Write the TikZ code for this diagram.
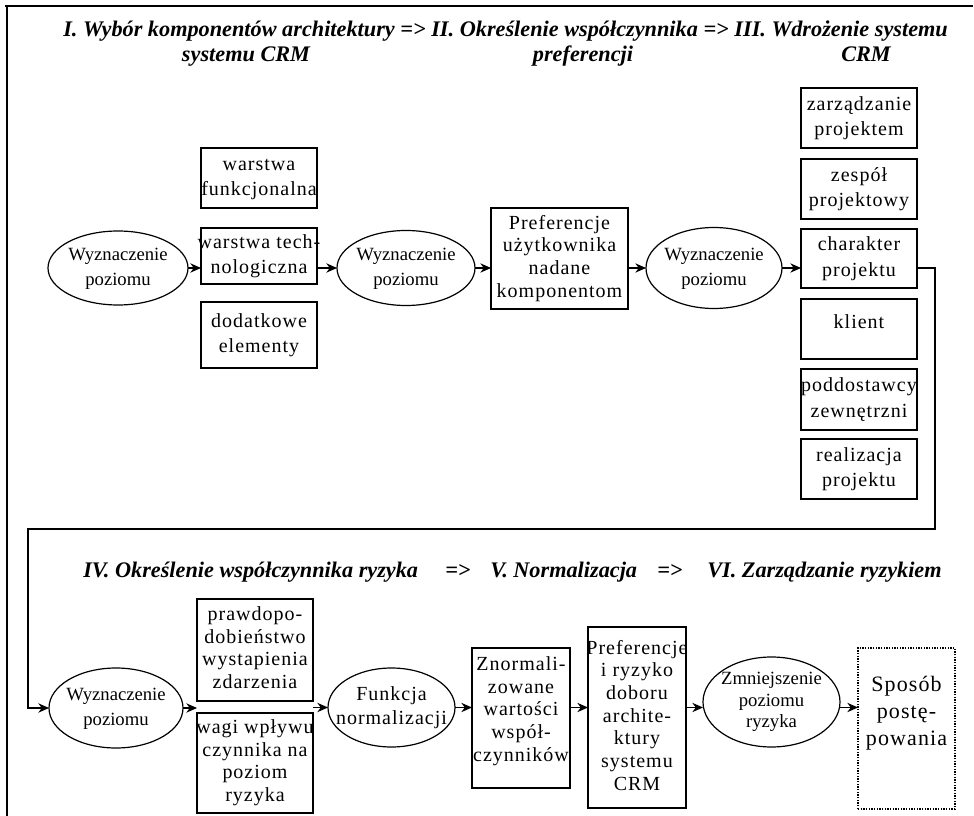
\documentclass[tikz,border=0pt]{standalone}
\usepackage{fontspec}
\setmainfont{Liberation Serif}
\newfontfamily\bodyfont[LetterSpace=5]{Liberation Serif}
\usetikzlibrary{shapes.geometric,arrows.meta}
\newcommand\mylines[1]{\makebox[0pt]{\begin{tabular}{@{}c@{}}#1\end{tabular}}}
\begin{document}
\begin{tikzpicture}[x=0.75pt,y=-0.75pt,
  box/.style={draw, line width=0.9pt, rectangle, inner sep=0pt, outer sep=0pt,
    font=\bodyfont\fontsize{15}{17}\selectfont},
  box2/.style={box, font=\bodyfont\fontsize{15}{19}\selectfont},
  oval/.style={draw, line width=0.9pt, ellipse, inner sep=-4pt, outer sep=0pt,
    font=\fontsize{14}{18.5}\selectfont},
  ovalb/.style={oval, font=\bodyfont\fontsize{15}{18}\selectfont},
  arr/.style={line width=0.9pt, -{Stealth[length=8pt,width=7pt]}},
  ttl/.style={font=\bfseries\itshape\fontsize{16.7}{20}\selectfont, inner sep=0pt, anchor=base west}]
\useasboundingbox (0,0) rectangle (974,816);
\fill[white] (0,0) rectangle (974,816);
% frame
\draw[line width=0.8pt] (5,6) -- (973,6);
\draw[line width=0.8pt] (7,6) -- (7,816);
% titles
\node[ttl] (t1) at (63,37) {I. Wybór komponentów architektury => II. Określenie współczynnika => III. Wdrożenie systemu};
\node[ttl, anchor=base] (t1b) at (246,62) {systemu CRM};
\node[ttl, anchor=base] (t2b) at (583,62) {preferencji};
\node[ttl, anchor=base] (t3b) at (866,62) {CRM};
\node[ttl] (t4) at (83,577) {IV. Określenie współczynnika ryzyka};
\node[ttl] (t4a) at (445,577) {=>};
\node[ttl] (t5) at (490,577) {V. Normalizacja};
\node[ttl] (t5a) at (657,577) {=>};
\node[ttl] (t6) at (707,577) {VI. Zarządzanie ryzykiem};
% top row
\node[oval, minimum width=105pt, minimum height=55.5pt] (e1) at (118,268) {\mylines{Wyznaczenie\\poziomu}};
\node[box2, minimum width=87pt, minimum height=45pt] (b1) at (259,178) {\mylines{warstwa\\funkcjonalna}};
\node[box2, minimum width=87pt, minimum height=42pt] (b2) at (259,256) {\mylines{warstwa tech-\\nologiczna}};
\node[box2, minimum width=87pt, minimum height=49.5pt] (b3) at (259,335) {\mylines{dodatkowe\\elementy}};
\node[oval, minimum width=103.5pt, minimum height=56.25pt] (e2) at (406,268) {\mylines{Wyznaczenie\\poziomu}};
\node[box, minimum width=102.75pt, minimum height=75.75pt] (p1) at (559.5,258.5) {\mylines{Preferencje\\użytkownika\\nadane\\komponentom}};
\node[oval, minimum width=102pt, minimum height=60.75pt] (e3) at (714,268) {\mylines{Wyznaczenie\\poziomu}};
\node[box2, minimum width=87pt, minimum height=45pt] (r1) at (859,118) {\mylines{zarządzanie\\projektem}};
\node[box2, minimum width=87pt, minimum height=45pt] (r2) at (859,189) {\mylines{zespół\\projektowy}};
\node[box2, minimum width=87pt, minimum height=44.25pt] (r3) at (859,258.5) {\mylines{charakter\\projektu}};
\node[box2, minimum width=87pt, minimum height=45pt] (r4) at (859,329) {\mylines{klient\\[8pt]}};
\node[box2, minimum width=87pt, minimum height=45.75pt] (r5) at (859,399.5) {\mylines{poddostawcy\\zewnętrzni}};
\node[box2, minimum width=87pt, minimum height=45pt] (r6) at (859,469) {\mylines{realizacja\\projektu}};
\draw[arr] (e1.east) -- (e1.east -| b2.west);
\draw[arr] (b2.east |- e2.west) -- (e2.west);
\draw[arr] (e2.east) -- (e2.east -| p1.west);
\draw[arr] (p1.east |- e3.west) -- (e3.west);
\draw[arr] (e3.east) -- (e3.east -| r3.west);
% bottom row
\node[oval, minimum width=100.5pt, minimum height=60pt] (e4) at (116,708) {\mylines{Wyznaczenie\\poziomu}};
\node[box, minimum width=87pt, minimum height=76.5pt] (q1) at (255,650) {\mylines{prawdopo-\\dobieństwo\\wystapienia\\zdarzenia}};
\node[box, minimum width=87pt, minimum height=75pt] (q2) at (255,763) {\mylines{wagi wpływu\\czynnika na\\poziom\\ryzyka}};
\node[ovalb, minimum width=95.25pt, minimum height=59.25pt] (e5) at (391.5,707.5) {\mylines{Funkcja\\normalizacji}};
\node[box, minimum width=73.5pt, minimum height=105pt] (z1) at (521,718) {\mylines{Znormali-\\zowane\\wartości\\współ-\\czynników\\[10pt]}};
\node[box, minimum width=73.5pt, minimum height=135.75pt] (pr) at (637,717.5) {\mylines{Preferencje\\i ryzyko\\doboru\\archite-\\ktury\\systemu\\CRM}};
\node[oval, minimum width=102.75pt, minimum height=67.5pt, font=\fontsize{14}{16}\selectfont] (e6) at (771.5,702) {\mylines{Zmniejszenie\\poziomu\\ryzyka}};
\node[draw, densely dotted, line width=1pt, rectangle, inner sep=0pt, outer sep=0pt, minimum width=72.75pt, minimum height=120.75pt,
  font=\bodyfont\fontsize{16.5}{20}\selectfont] (s) at (906.5,728.5) {\mylines{Sposób\\postę-\\powania\\[23pt]}};
\coordinate (c1) at (935,529);
\coordinate (c2) at (28,529);
\draw[arr] (e3.east -| r3.east) -- (c1 |- e3.east) -- (c1) -- (c2) |- (e4.west);
\draw[arr] (e4.east) -- (e4.east -| q1.west);
\draw[arr] (q1.east |- e5.west) -- (e5.west);
\draw[arr] (e5.east) -- (e5.east -| z1.west);
\draw[arr] (z1.east |- e5.east) -- (pr.west |- e5.east);
\draw[arr] (pr.east |- e5.east) -- (e6.west |- e5.east);
\draw[arr] (e6.east |- e5.east) -- (s.west |- e5.east);
\end{tikzpicture}
\end{document}
